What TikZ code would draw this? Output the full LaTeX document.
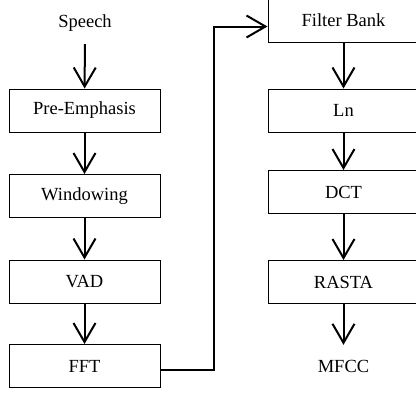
\documentclass[tikz,border=0pt]{standalone}
\usepackage{fontspec}
\setmainfont{Liberation Serif}
\usetikzlibrary{arrows.meta}
\begin{document}
\begin{tikzpicture}[x=1pt,y=-1pt,
  stagebox/.style={draw, line width=1pt, minimum width=151pt, minimum height=43pt, inner sep=0pt,
                   font=\fontsize{18.5}{22}\selectfont},
  endlabel/.style={minimum height=42pt, inner sep=0pt, font=\fontsize{18.5}{22}\selectfont},
  arr/.style={line width=2pt, -{Straight Barb[length=19pt,width=22pt]}}]
\clip (0,0) rectangle (416,392);
% left column
\node[endlabel] (speech) at (85,23) {Speech};
\node[stagebox] (pre)  at (84.5,110.5) {Pre-Emphasis};
\node[stagebox] (win)  at (84.5,196)   {Windowing};
\node[stagebox] (vad)  at (84.5,281.5) {VAD};
\node[stagebox] (fft)  at (84.5,366)   {FFT};
% right column
\node[stagebox] (fb)    at (343.5,20.5)  {Filter Bank};
\node[stagebox] (ln)    at (343.5,110.5) {Ln};
\node[stagebox] (dct)   at (343.5,192)   {DCT};
\node[stagebox] (rasta) at (343.5,282)   {RASTA};
\node[endlabel] (mfcc)  at (343.5,366)   {MFCC};
% connectors
\draw[arr] (speech) -- (pre);
\draw[arr] (pre) -- (win);
\draw[arr] (win) -- (vad);
\draw[arr] (vad) -- (fft);
\coordinate (turn) at (214,370);
\draw[arr] ([yshift=-4pt]fft.east) -- (turn) |- ([yshift=-6pt]fb.west);
\draw[arr] (fb) -- (ln);
\draw[arr] (ln) -- (dct);
\draw[arr] (dct) -- (rasta);
\draw[arr] (rasta) -- (mfcc);
\end{tikzpicture}
\end{document}
